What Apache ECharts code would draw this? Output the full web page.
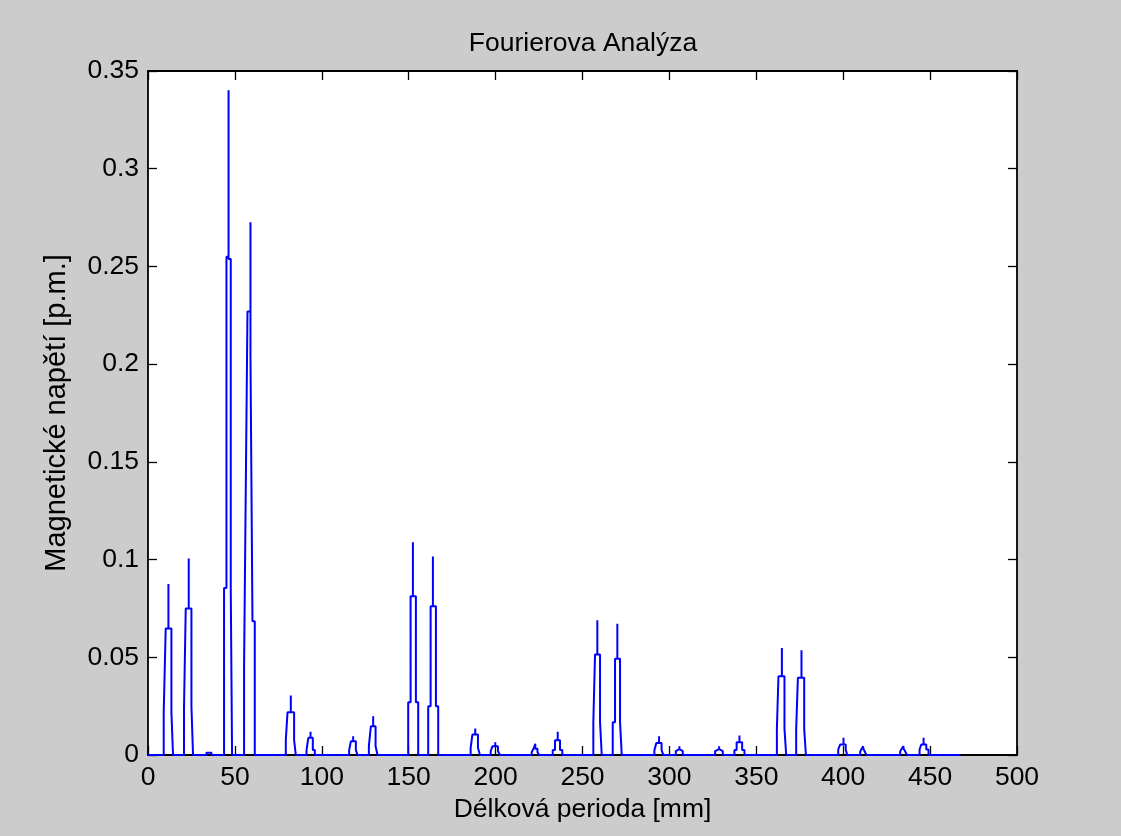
<!DOCTYPE html>
<html>
<head>
<meta charset="utf-8">
<title>Fourierova Analýza</title>
<script src="https://cdn.jsdelivr.net/npm/echarts@6/dist/echarts.min.js"></script>
<style>
  html, body { margin: 0; padding: 0; background: #cccccc; }
  #chart { width: 1121px; height: 836px; }
</style>
</head>
<body>
<div id="chart"></div>
<script>
// stairs data: x where the level changes [mm], new level [p.m.]
// one line per peak
const periodMm = [
  0,
  9.04, 10.19, 11.75, 11.75, 13.47, 14.40,
  20.73, 21.71, 23.44, 23.44, 24.99, 25.91,
  33.63, 36.51,
  43.76, 45.14, 46.35, 46.35, 47.62, 48.37,
  55.28, 56.26, 57.24, 58.96, 58.96, 60.11, 61.44,
  79.29, 80.27, 82.17, 82.17, 84.07, 85.05,
  91.21, 92.24, 93.51, 93.51, 94.83, 95.99,
  115.74, 116.72, 118.04, 118.04, 119.60, 120.57,
  127.08, 128.23, 129.56, 129.56, 130.94, 132.09,
  149.71, 151.09, 152.42, 152.42, 154.14, 155.47,
  161.23, 162.61, 163.93, 163.93, 165.66, 166.98,
  185.64, 186.68, 188.29, 188.29, 189.84, 190.99,
  197.16, 198.19, 199.80, 199.80, 201.36, 202.51,
  220.76, 221.80, 222.84, 222.84, 224.10, 225.14,
  232.86, 234.18, 235.74, 235.74, 237.06, 238.38,
  256.23, 257.21, 258.54, 258.54, 260.09, 261.07,
  267.40, 268.72, 270.05, 270.05, 271.60, 272.58,
  291.36, 292.51, 294.06, 294.06, 295.50, 296.54,
  303.68, 304.72, 305.75, 305.75, 306.73, 307.71,
  326.31, 327.46, 328.61, 328.61, 329.76, 330.74,
  337.42, 338.69, 340.30, 340.30, 341.86, 343.18,
  361.84, 362.76, 364.72, 364.72, 366.21, 367.19,
  372.95, 373.93, 376.00, 376.00, 377.56, 378.53,
  397.13, 398.28, 400.18, 400.18, 401.45, 402.31,
  409.80, 410.70, 411.50, 411.50, 412.40, 413.30,
  432.80, 433.70, 434.70, 434.70, 435.70, 436.70,
  443.95, 444.90, 446.25, 446.25, 447.80, 449.10,
  467.4
]
const napeti = [
  0,
  0.0219, 0.0647, 0.0875, 0.0647, 0.0219, 0,
  0.0249, 0.0749, 0.1005, 0.0749, 0.0249, 0,
  0.0012, 0,
  0.0855, 0.2550, 0.3402, 0.2538, 0.0846, 0,
  0.0454, 0.1366, 0.2269, 0.2726, 0.2039, 0.0684, 0,
  0.0076, 0.0219, 0.0304, 0.0219, 0.0076, 0,
  0.0025, 0.0088, 0.0119, 0.0088, 0.0025, 0,
  0.0025, 0.0070, 0.0096, 0.0070, 0.0025, 0,
  0.0045, 0.0147, 0.0198, 0.0147, 0.0045, 0,
  0.0270, 0.0812, 0.1088, 0.0812, 0.0270, 0,
  0.0249, 0.0761, 0.1016, 0.0761, 0.0249, 0,
  0.0037, 0.0105, 0.0135, 0.0105, 0.0037, 0,
  0.0019, 0.0045, 0.0065, 0.0045, 0.0019, 0,
  0.0014, 0.0032, 0.0057, 0.0032, 0.0014, 0,
  0.0025, 0.0076, 0.0119, 0.0076, 0.0025, 0,
  0.0168, 0.0514, 0.0689, 0.0514, 0.0168, 0,
  0.0168, 0.0493, 0.0671, 0.0493, 0.0168, 0,
  0.0025, 0.0062, 0.0096, 0.0062, 0.0025, 0,
  0.0020, 0.0030, 0.0045, 0.0030, 0.0020, 0,
  0.0020, 0.0030, 0.0045, 0.0030, 0.0020, 0,
  0.0025, 0.0065, 0.0100, 0.0065, 0.0025, 0,
  0.0135, 0.0403, 0.0548, 0.0403, 0.0135, 0,
  0.0135, 0.0395, 0.0536, 0.0395, 0.0135, 0,
  0.0028, 0.0054, 0.0088, 0.0054, 0.0028, 0,
  0.0018, 0.0033, 0.0045, 0.0033, 0.0018, 0,
  0.0018, 0.0033, 0.0045, 0.0033, 0.0018, 0,
  0.0028, 0.0054, 0.0088, 0.0054, 0.0028, 0,
  0
]
const xTicks = [0, 500, 50]
const yTicks = [0, 0.35, 0.05]

const font = 'Liberation Sans, Arial, sans-serif'
const fontSize = 26.5

// stairs: hold the previous level until the next x, then jump
const stairs = []
periodMm.forEach((x, i) => {
  if (i > 0) stairs.push([x, napeti[i - 1]])
  stairs.push([x, napeti[i]])
})

const myChart = echarts.init(document.getElementById('chart'))

function boxAxis (range, pos, labels) {
  return {
    type: 'value',
    position: pos,
    min: range[0],
    max: range[1],
    interval: range[2],
    splitLine: { show: false },
    axisLine: { show: true, onZero: false, lineStyle: { color: '#000', width: 1.8 } },
    axisTick: { show: true, inside: true, length: 9, lineStyle: { color: '#000', width: 1.3 } },
    axisLabel: { show: labels, color: '#000', fontFamily: font, fontSize: fontSize, margin: 9,
      formatter: v => String(+v.toFixed(2)) }
  }
}

const xMain = boxAxis(xTicks, 'bottom', true)
xMain.name = 'Délková perioda [mm]'
xMain.nameLocation = 'middle'
xMain.nameGap = 39
xMain.nameTextStyle = { color: '#000', fontFamily: font, fontSize: fontSize }

const yMain = boxAxis(yTicks, 'left', true)
yMain.name = 'Magnetické napětí [p.m.]'
yMain.nameLocation = 'middle'
yMain.nameGap = 77
yMain.nameTextStyle = { color: '#000', fontFamily: font, fontSize: 29 }

const option = {
  backgroundColor: '#cccccc',
  animation: false,
  title: {
    text: 'Fourierova Analýza',
    left: 583,
    textAlign: 'center',
    top: 30,
    padding: 0,
    textStyle: { color: '#000', fontFamily: font, fontSize: fontSize, fontWeight: 'normal' }
  },
  grid: {
    left: 148,
    top: 71,
    width: 869,
    height: 684,
    show: true,
    backgroundColor: '#ffffff',
    borderWidth: 0
  },
  xAxis: [xMain, boxAxis(xTicks, 'top', false)],
  yAxis: [yMain, boxAxis(yTicks, 'right', false)],
  series: [
    {
      type: 'line',
      data: stairs,
      showSymbol: false,
      clip: false,
      lineStyle: { color: '#0000ff', width: 2 },
      itemStyle: { color: '#0000ff' }
    }
  ]
}
myChart.setOption(option)
</script>
</body>
</html>
